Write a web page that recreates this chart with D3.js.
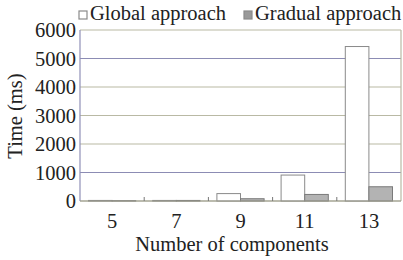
<!DOCTYPE html>
<html>
<head>
<meta charset="utf-8">
<script src="https://cdn.jsdelivr.net/npm/d3@7"></script>
<style>
  body { margin: 0; background: #fff; }
</style>
</head>
<body>
<div id="container"></div>
<script>
/* DATA */
var components = ['5', '7', '9', '11', '13']
var globalTimes = [20, 20, 260, 910, 5420]
var gradualTimes = [10, 20, 80, 230, 500]
var yTicks = [0, 1000, 2000, 3000, 4000, 5000, 6000]
var seriesNames = ['Global approach', 'Gradual approach']
var seriesFill = ['#ffffff', '#b3b3b3']
var seriesStroke = ['#8a8a8a', '#7a7a7a']

/* SET UP */
var width = 403, height = 260
var margin = { left: 80, right: 2, top: 30, bottom: 59 }
var font = "'Liberation Serif', 'Times New Roman', 'DejaVu Serif', serif"
var fontSize = '20.5px'

var svg = d3.select('#container').append('svg')
  .attr('width', width)
  .attr('height', height)
  .attr('font-family', font)
  .attr('fill', '#222')

var x = d3.scaleBand()
  .domain(components)
  .range([margin.left, width - margin.right])
  .paddingInner(0)
  .paddingOuter(0)

var y = d3.scaleLinear()
  .domain([0, 6000])
  .range([height - margin.bottom, margin.top])

var inner = d3.scaleBand()
  .domain([0, 1])
  .range([0, x.bandwidth()])
  .paddingOuter(0.36)
  .paddingInner(0)

/* GRID */
svg.append('g').selectAll('line')
  .data(yTicks)
  .enter().append('line')
  .attr('x1', margin.left)
  .attr('x2', width - margin.right)
  .attr('y1', function(d) { return y(d) })
  .attr('y2', function(d) { return y(d) })
  .style('stroke', function(d) { return (d / 1000) % 4 === 1 ? '#8c8cb4' : '#b9b9a4' })
  .style('stroke-width', 1.2)

// plot frame
svg.append('line')
  .attr('x1', margin.left).attr('x2', margin.left)
  .attr('y1', y(6000)).attr('y2', y(0))
  .style('stroke', '#9090b8').style('stroke-width', 1.2)
svg.append('line')
  .attr('x1', width - margin.right).attr('x2', width - margin.right)
  .attr('y1', y(6000)).attr('y2', y(0))
  .style('stroke', '#b9b9a4').style('stroke-width', 1.2)

/* BARS */
var series = [globalTimes, gradualTimes]
series.forEach(function(vals, s) {
  svg.append('g').selectAll('rect')
    .data(vals)
    .enter().append('rect')
    .attr('x', function(d, i) { return x(components[i]) + inner(s) })
    .attr('width', inner.bandwidth())
    .attr('y', function(d) { return y(d) })
    .attr('height', function(d) { return y(0) - y(d) })
    .style('fill', seriesFill[s])
    .style('stroke', seriesStroke[s])
    .style('stroke-width', 1)
})

// baseline on top of bars
svg.append('line')
  .attr('x1', margin.left).attr('x2', width - margin.right)
  .attr('y1', y(0)).attr('y2', y(0))
  .style('stroke', '#9a9a8c').style('stroke-width', 1.2)

// small ticks between groups
svg.append('g').selectAll('line')
  .data(components.slice(1))
  .enter().append('line')
  .attr('x1', function(d) { return x(d) })
  .attr('x2', function(d) { return x(d) })
  .attr('y1', y(0) - 4)
  .attr('y2', y(0))
  .style('stroke', '#777').style('stroke-width', 1)

/* AXES LABELS */
svg.append('g').selectAll('text')
  .data(yTicks)
  .enter().append('text')
  .attr('x', margin.left - 4)
  .attr('y', function(d) { return y(d) + 7 })
  .attr('text-anchor', 'end')
  .style('font-size', fontSize)
  .text(function(d) { return d })

svg.append('g').selectAll('text')
  .data(components)
  .enter().append('text')
  .attr('x', function(d) { return x(d) + x.bandwidth() / 2 })
  .attr('y', 228)
  .attr('text-anchor', 'middle')
  .style('font-size', fontSize)
  .text(function(d) { return d })

svg.append('text')
  .attr('x', 232)
  .attr('y', 251)
  .attr('text-anchor', 'middle')
  .style('font-size', fontSize)
  .text('Number of components')

svg.append('text')
  .attr('transform', 'translate(22,116) rotate(-90)')
  .attr('text-anchor', 'middle')
  .style('font-size', fontSize)
  .text('Time (ms)')

/* LEGEND */
var legendX = [79, 244]
seriesNames.forEach(function(name, s) {
  svg.append('rect')
    .attr('x', legendX[s]).attr('y', 11)
    .attr('width', 8).attr('height', 8)
    .style('fill', s === 0 ? '#fff' : '#999')
    .style('stroke', '#8a8a8a').style('stroke-width', 1.2)
  svg.append('text')
    .attr('x', legendX[s] + 11)
    .attr('y', 20)
    .style('font-size', fontSize)
    .text(name)
})
</script>
</body>
</html>
